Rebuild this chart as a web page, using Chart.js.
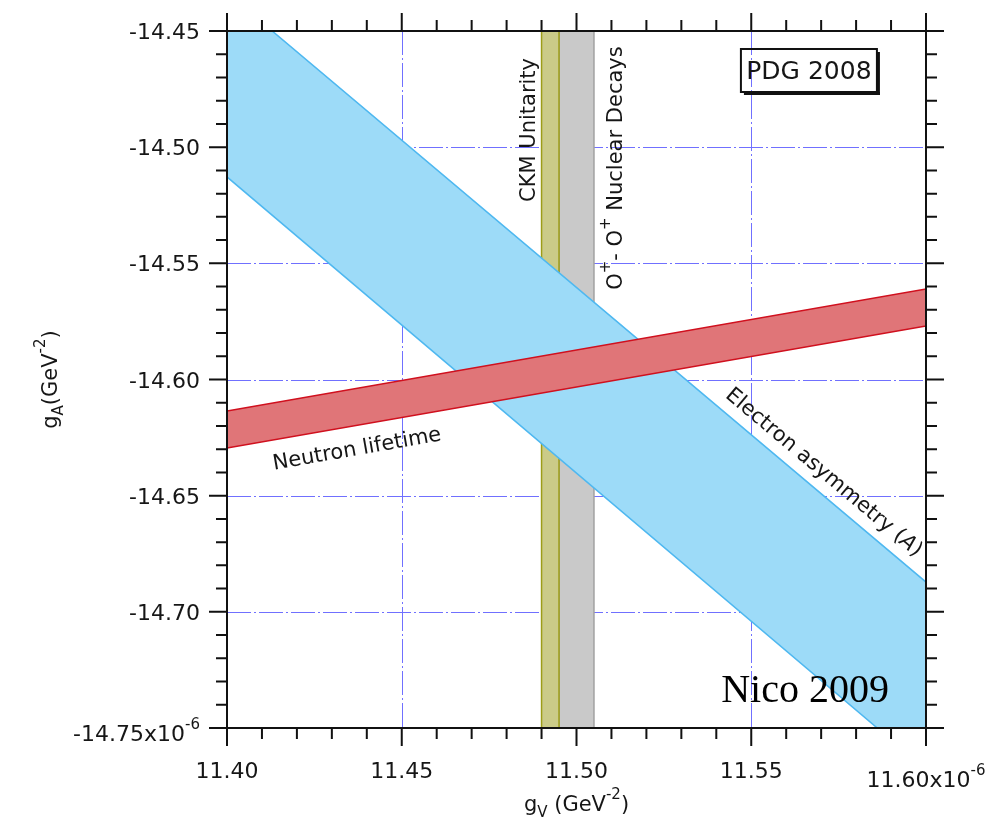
<!DOCTYPE html>
<html>
<head>
<meta charset="utf-8">
<title>gA vs gV</title>
<script src="https://cdn.jsdelivr.net/npm/chart.js@4.4.0/dist/chart.umd.min.js"></script>
<style>
    body { margin: 0; background: #fff; }
    #wrap { width: 993px; height: 824px; }
</style>
</head>
<body>
<div id="wrap"><canvas id="chart"></canvas></div>
<script>
// gA vs gV constraints, values in units of 1e-6 GeV^-2

// ==================== DATA ====================

const xTicks = [11.40, 11.45, 11.50, 11.55, 11.60];
const xMinorTicks = [11.41, 11.42, 11.43, 11.44, 11.46, 11.47, 11.48, 11.49,
                     11.51, 11.52, 11.53, 11.54, 11.56, 11.57, 11.58, 11.59];
const xTickLabels = ['11.40', '11.45', '11.50', '11.55', '11.60x10'];

const yTicks = [-14.45, -14.50, -14.55, -14.60, -14.65, -14.70, -14.75];
const yMinorTicks = [-14.46, -14.47, -14.48, -14.49, -14.51, -14.52, -14.53, -14.54,
                     -14.56, -14.57, -14.58, -14.59, -14.61, -14.62, -14.63, -14.64,
                     -14.66, -14.67, -14.68, -14.69, -14.71, -14.72, -14.73, -14.74];
const yTickLabels = ['-14.45', '-14.50', '-14.55', '-14.60', '-14.65', '-14.70', '-14.75x10'];
const tickExponent = '-6';

// sloped bands: edge values at gV = 11.40 and 11.60
const bandEdgeX = [11.40, 11.60];
const electronUpper = [-14.4336, -14.6872];
const electronLower = [-14.5128, -14.7678];
const lifetimeUpper = [-14.6136, -14.5610];
const lifetimeLower = [-14.6295, -14.5770];

// vertical bands (gV ranges)
const ckmRange = [11.490, 11.495];
const nuclearRange = [11.495, 11.505];

const FONT = "'DejaVu Sans', sans-serif";
const TEXT_COLOR = '#161616';
const GRID_COLOR = '#7070ff';
const MAJOR_TICK = 18;
const MINOR_TICK = 11;

// ==================== HELPERS ====================

function bandPolygon(xs, upper, lower) {
    const top = xs.map((x, i) => ({ x: x, y: upper[i] }));
    const bottom = xs.map((x, i) => ({ x: x, y: lower[i] })).reverse();
    return top.concat(bottom);
}

function stripPolygon(range) {
    const yLo = yTicks[yTicks.length - 1];
    const yHi = yTicks[0];
    return [
        { x: range[0], y: yLo },
        { x: range[0], y: yHi },
        { x: range[1], y: yHi },
        { x: range[1], y: yLo }
    ];
}

// draw text made of parts; part = {t, sup, sub, italic}
function richText(ctx, parts, x, y, size, align, family) {
    const fontFor = p => `${p.italic ? 'italic ' : ''}${p.sup || p.sub ? Math.round(size * 0.7) : size}px ${family || FONT}`;
    let total = 0;
    parts.forEach(p => {
        ctx.font = fontFor(p);
        total += ctx.measureText(p.t).width;
    });
    let cx = x;
    if (align === 'center') cx = x - total / 2;
    if (align === 'right') cx = x - total;
    ctx.textAlign = 'left';
    ctx.textBaseline = 'alphabetic';
    parts.forEach(p => {
        ctx.font = fontFor(p);
        const dy = p.sup ? -size * 0.55 : p.sub ? size * 0.3 : 0;
        ctx.fillText(p.t, cx, y + dy);
        cx += ctx.measureText(p.t).width;
    });
}

function rotatedText(ctx, parts, px, py, angleDeg, size, family) {
    ctx.save();
    ctx.translate(px, py);
    ctx.rotate(angleDeg * Math.PI / 180);
    richText(ctx, parts, 0, 0, size, 'center', family);
    ctx.restore();
}

// ==================== GRID ====================

const gridPlugin = {
    id: 'dashGrid',
    beforeDatasetsDraw(chart) {
        const { ctx, chartArea: a, scales: { x, y } } = chart;
        ctx.save();
        ctx.strokeStyle = GRID_COLOR;
        ctx.lineWidth = 1;
        ctx.setLineDash([24, 3, 2, 3]);
        ctx.beginPath();
        xTicks.slice(1, -1).forEach(v => {
            const px = Math.round(x.getPixelForValue(v)) + 0.5;
            ctx.moveTo(px, a.top);
            ctx.lineTo(px, a.bottom);
        });
        yTicks.slice(1, -1).forEach(v => {
            const py = Math.round(y.getPixelForValue(v)) + 0.5;
            ctx.moveTo(a.left, py);
            ctx.lineTo(a.right, py);
        });
        ctx.stroke();
        ctx.restore();
    }
};

// ==================== FRAME, TICKS, LABELS ====================

const decorPlugin = {
    id: 'decor',
    afterDraw(chart) {
        const { ctx, chartArea: a, scales: { x, y } } = chart;
        ctx.save();

        // frame
        ctx.strokeStyle = '#111';
        ctx.lineWidth = 2;
        ctx.strokeRect(a.left, a.top, a.right - a.left, a.bottom - a.top);

        // ticks on all four sides
        ctx.beginPath();
        const xTick = (v, len) => {
            const px = x.getPixelForValue(v);
            ctx.moveTo(px, a.bottom); ctx.lineTo(px, a.bottom + len);
            ctx.moveTo(px, a.top); ctx.lineTo(px, a.top - len);
        };
        const yTick = (v, len) => {
            const py = y.getPixelForValue(v);
            ctx.moveTo(a.left, py); ctx.lineTo(a.left - len, py);
            ctx.moveTo(a.right, py); ctx.lineTo(a.right + len, py);
        };
        xTicks.forEach(v => xTick(v, MAJOR_TICK));
        xMinorTicks.forEach(v => xTick(v, MINOR_TICK));
        yTicks.forEach(v => yTick(v, MAJOR_TICK));
        yMinorTicks.forEach(v => yTick(v, MINOR_TICK));
        ctx.stroke();

        ctx.fillStyle = TEXT_COLOR;

        // tick labels
        xTicks.forEach((v, i) => {
            const px = x.getPixelForValue(v);
            if (i === xTicks.length - 1) {
                richText(ctx, [{ t: xTickLabels[i] }, { t: tickExponent, sup: true }], px, a.bottom + 59, 22, 'center');
            } else {
                richText(ctx, [{ t: xTickLabels[i] }], px, a.bottom + 50, 22, 'center');
            }
        });
        yTicks.forEach((v, i) => {
            const py = y.getPixelForValue(v);
            if (i === yTicks.length - 1) {
                richText(ctx, [{ t: yTickLabels[i] }, { t: tickExponent, sup: true }], a.left - 27, py + 13, 22, 'right');
            } else {
                richText(ctx, [{ t: yTickLabels[i] }], a.left - 27, py + 8, 22, 'right');
            }
        });

        // axis titles
        richText(ctx, [{ t: 'g' }, { t: 'V', sub: true }, { t: ' (GeV' }, { t: '-2', sup: true }, { t: ')' }],
            (a.left + a.right) / 2, 811, 21, 'center');
        rotatedText(ctx, [{ t: 'g' }, { t: 'A', sub: true }, { t: '(GeV' }, { t: '-2', sup: true }, { t: ')' }],
            57, (a.top + a.bottom) / 2, -90, 21);

        // band labels
        rotatedText(ctx, [{ t: 'CKM Unitarity' }],
            x.getPixelForValue(11.4881), y.getPixelForValue(-14.4926), -90, 21);
        rotatedText(ctx, [{ t: 'O' }, { t: '+', sup: true }, { t: '- O' }, { t: '+', sup: true }, { t: ' Nuclear Decays' }],
            x.getPixelForValue(11.5130), y.getPixelForValue(-14.5090), -90, 21);
        rotatedText(ctx, [{ t: 'Neutron lifetime' }],
            x.getPixelForValue(11.4375), y.getPixelForValue(-14.6325), -10, 21);
        rotatedText(ctx, [{ t: 'Electron asymmetry (' }, { t: 'A', italic: true }, { t: ')' }],
            x.getPixelForValue(11.5697), y.getPixelForValue(-14.6420), 40, 21);

        // PDG 2008 box with drop shadow
        const bx = x.getPixelForValue(11.5665);
        const by = y.getPixelForValue(-14.4670);
        const bw = 136, bh = 43;
        ctx.fillStyle = '#111';
        ctx.fillRect(bx - bw / 2 + 3, by + bh / 2, bw, 3);
        ctx.fillRect(bx + bw / 2, by - bh / 2 + 3, 3, bh);
        ctx.lineWidth = 2;
        ctx.strokeRect(bx - bw / 2, by - bh / 2, bw, bh);
        ctx.fillStyle = TEXT_COLOR;
        richText(ctx, [{ t: 'PDG 2008' }], bx, by + 9, 25, 'center');

        // credit
        ctx.fillStyle = '#000';
        richText(ctx, [{ t: 'Nico 2009' }], x.getPixelForValue(11.5654), y.getPixelForValue(-14.7388), 40,
            'center', "'Liberation Serif', 'Times New Roman', serif");

        ctx.restore();
    }
};

// ==================== CHART ====================

function bandDataset(label, points, fillColor, edgeColor, order) {
    return {
        label: label,
        data: points,
        fill: 'shape',
        backgroundColor: fillColor,
        borderColor: edgeColor,
        borderWidth: 1.5,
        pointRadius: 0,
        tension: 0,
        order: order
    };
}

const ctx = document.getElementById('chart').getContext('2d');

new Chart(ctx, {
    type: 'line',
    data: {
        datasets: [
            bandDataset('Neutron lifetime', bandPolygon(bandEdgeX, lifetimeUpper, lifetimeLower), '#e07578', '#d0101e', 0),
            bandDataset('Electron asymmetry', bandPolygon(bandEdgeX, electronUpper, electronLower), '#9ddbf8', '#4fb8f0', 1),
            bandDataset('CKM Unitarity', stripPolygon(ckmRange), '#cbcb88', '#9d9d18', 2),
            bandDataset('0+ - 0+ Nuclear Decays', stripPolygon(nuclearRange), '#c9c9c9', '#a2a2a2', 3)
        ]
    },
    options: {
        responsive: true,
        maintainAspectRatio: false,
        animation: false,
        layout: { padding: { left: 227, right: 67, top: 31, bottom: 96 } },
        plugins: {
            legend: { display: false },
            tooltip: { enabled: false }
        },
        scales: {
            x: {
                type: 'linear',
                min: xTicks[0],
                max: xTicks[xTicks.length - 1],
                ticks: { display: false },
                grid: { display: false, drawTicks: false },
                border: { display: false }
            },
            y: {
                type: 'linear',
                min: yTicks[yTicks.length - 1],
                max: yTicks[0],
                ticks: { display: false },
                grid: { display: false, drawTicks: false },
                border: { display: false }
            }
        }
    },
    plugins: [gridPlugin, decorPlugin]
});
</script>
</body>
</html>
